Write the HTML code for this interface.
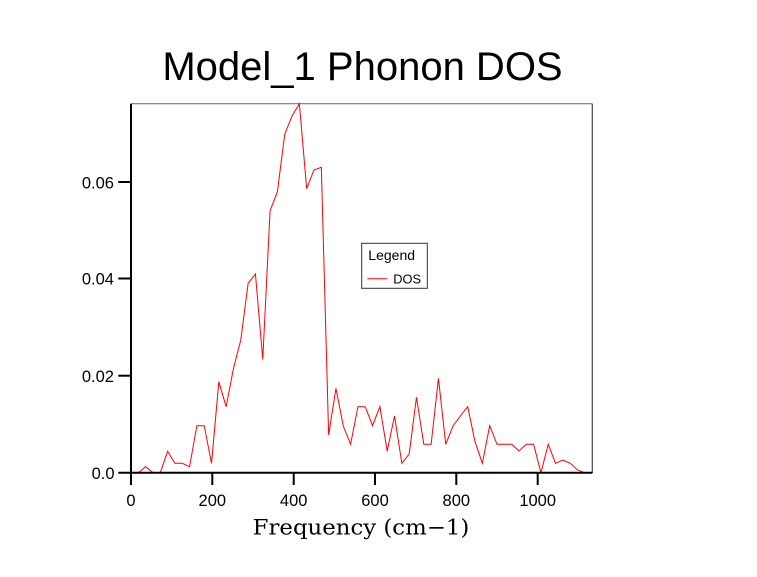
<!DOCTYPE html>
<html>
<head>
<meta charset="utf-8">
<style>
html,body{margin:0;padding:0;background:#fff;}
svg{display:block;}
</style>
</head>
<body>
<svg width="757" height="577" viewBox="0 0 757 577" xmlns="http://www.w3.org/2000/svg">
<rect x="0" y="0" width="757" height="577" fill="#fff"/>
<!-- title -->
<text x="362.5" y="80" font-family="Liberation Sans, Arial, sans-serif" font-size="40" text-anchor="middle" fill="#000">Model_1 Phonon DOS</text>
<!-- frame top/right thin -->
<line x1="131" y1="103.7" x2="592.3" y2="103.7" stroke="#777" stroke-width="1.2"/>
<line x1="592.3" y1="103.7" x2="592.3" y2="473" stroke="#444" stroke-width="1.2"/>
<!-- series -->
<polyline fill="none" stroke="#ff0000" stroke-width="1" stroke-linejoin="miter" points="
131,472.7 138.32,472.7 145.64,466.7 152.96,472.7 160.28,472.7 167.6,451.3 174.92,463.3 182.24,463.3 189.56,466.7 196.88,425.7 204.2,425.7 211.52,463.3 218.84,381.7 226.16,406.7 233.48,368.3 240.8,340 248.12,283.3 255.44,274 262.76,359.3 270.08,210.7 277.4,191.7 284.72,134.3 292.04,116 299.36,103.7 306.68,188.7 314,170 321.32,167.3 328.64,435 335.96,388.3 343.28,426 350.6,444.3 357.92,406.7 365.24,406.7 372.56,425.7 379.88,406.7 387.2,451 394.52,416 401.84,463.3 409.16,454 416.48,397.3 423.8,444.3 431.12,444.3 438.44,378.3 445.76,444.3 453.08,425.7 460.4,416 467.72,406.7 475.04,441.7 482.36,463.3 489.68,425.7 497,444.3 504.32,444.3 511.64,444.3 518.96,451 526.28,444.3 533.6,444.3 540.92,472.7 548.24,444.3 555.56,463.3 562.88,460 570.2,463.3 577.52,470 584.84,472.7 592.16,472.7"/>
<!-- axes -->
<g stroke="#000" stroke-width="2" fill="none">
<line x1="131" y1="103.7" x2="131" y2="485"/>
<line x1="118.3" y1="472.7" x2="592.3" y2="472.7"/>
<!-- y ticks -->
<line x1="118.3" y1="375.7" x2="131" y2="375.7"/>
<line x1="118.3" y1="278.5" x2="131" y2="278.5"/>
<line x1="118.3" y1="182" x2="131" y2="182"/>
<!-- x ticks -->
<line x1="212.3" y1="472.7" x2="212.3" y2="485"/>
<line x1="293.7" y1="472.7" x2="293.7" y2="485"/>
<line x1="375" y1="472.7" x2="375" y2="485"/>
<line x1="456.3" y1="472.7" x2="456.3" y2="485"/>
<line x1="537.7" y1="472.7" x2="537.7" y2="485"/>
</g>
<!-- y labels -->
<g font-family="Liberation Sans, Arial, sans-serif" font-size="16.5" fill="#000" text-anchor="end">
<text x="114.5" y="479">0.0</text>
<text x="114" y="382">0.02</text>
<text x="114" y="284.5">0.04</text>
<text x="114" y="188.5">0.06</text>
</g>
<!-- x labels -->
<g font-family="Liberation Sans, Arial, sans-serif" font-size="16.5" fill="#000" text-anchor="middle">
<text x="131" y="506">0</text>
<text x="212.3" y="506">200</text>
<text x="293.7" y="506">400</text>
<text x="375" y="506">600</text>
<text x="456.3" y="506">800</text>
<text x="537.7" y="506">1000</text>
</g>
<!-- x axis title -->
<text x="252.7" y="534.3" font-family="DejaVu Serif, Liberation Serif, serif" font-size="21" textLength="216.6" lengthAdjust="spacingAndGlyphs" fill="#000">Frequency (cm−1)</text>
<!-- legend -->
<rect x="361.7" y="243.3" width="65.6" height="45" fill="#fff" stroke="#333" stroke-width="1"/>
<text x="368.3" y="260" font-family="Liberation Sans, Arial, sans-serif" font-size="14" fill="#000">Legend</text>
<line x1="367.3" y1="278.7" x2="387.3" y2="278.7" stroke="#ff0000" stroke-width="1"/>
<text x="393.3" y="283.7" font-family="Liberation Sans, Arial, sans-serif" font-size="12.8" fill="#000">DOS</text>
</svg>
</body>
</html>
